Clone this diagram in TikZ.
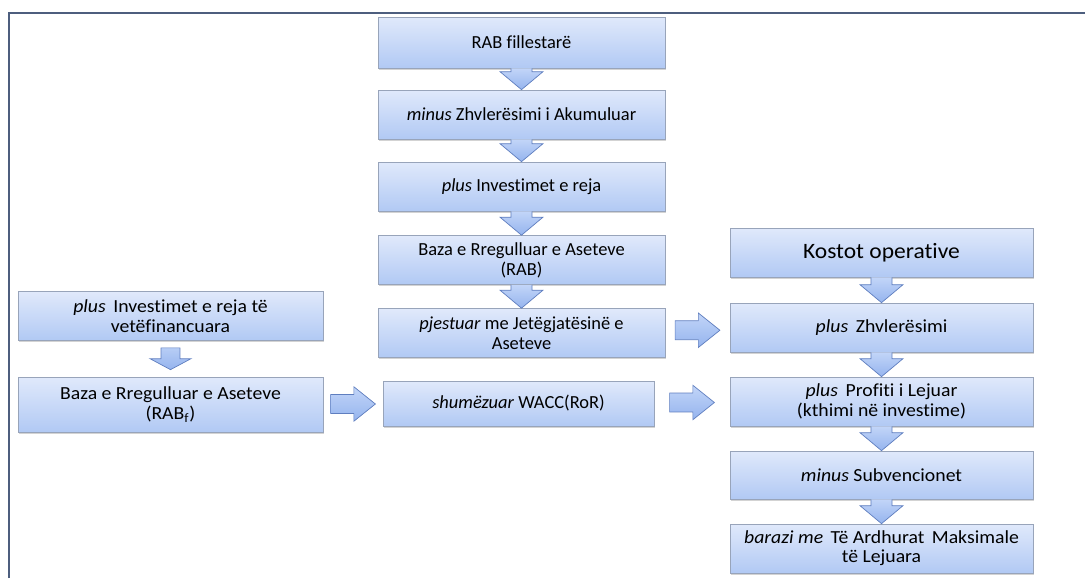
\documentclass[tikz,border=0pt]{standalone}
\usepackage{fontspec}
\setmainfont[Ligatures=NoCommon]{Carlito}
\newfontfamily\widefont[FakeStretch=1.07, Ligatures=NoCommon]{Carlito}
\usetikzlibrary{calc,shadows}

\definecolor{boxtop}{HTML}{E0E9FB}
\definecolor{boxbot}{HTML}{B1C9F4}
\definecolor{boxline}{HTML}{98A4BA}
\definecolor{arrowtop}{HTML}{C2D5F8}
\definecolor{arrowbot}{HTML}{95B4EE}
\definecolor{arrowline}{HTML}{5F7EBF}
\definecolor{frameline}{HTML}{4D5E7E}

\begin{document}
\begin{tikzpicture}[x=0.02cm, y=-0.02cm, text centered]
    \tikzset{%
      stage/.style={draw=boxline, top color=boxtop, bottom color=boxbot, align=center,
        drop shadow={shadow xshift=0.6pt, shadow yshift=-1pt, opacity=0.35},
        minimum height=0.98cm, inner sep=1pt, font=\fontsize{10.5}{11.5}\selectfont},
      midstage/.style={stage, minimum width=5.74cm},
      sidestage/.style={stage, minimum width=6.06cm, font=\fontsize{10.5}{11}\widefont},
      blockarrow/.style={draw=arrowline, top color=arrowtop, bottom color=arrowbot, line join=miter},
      blockdown/.style={blockarrow, to path={let \p1=(\tikztostart), \p2=(\tikztotarget) in
        (\x1-6pt,\y1) -- (\x1-6pt,\y2+10.2pt) -- (\x1-12.2pt,\y2+10.2pt) -- (\x1,\y2)
        -- (\x1+12.2pt,\y2+10.2pt) -- (\x1+6pt,\y2+10.2pt) -- (\x1+6pt,\y1)}},
      floatdown/.style={blockarrow, to path={let \p1=($(\tikztostart)!0.5!(\tikztotarget)$) in
        (\x1-5.4pt,\y1+6.2pt) -- (\x1-5.4pt,\y1) -- (\x1-11.6pt,\y1) -- (\x1,\y1-6.2pt)
        -- (\x1+11.6pt,\y1) -- (\x1+5.4pt,\y1) -- (\x1+5.4pt,\y1+6.2pt) -- cycle}},
      blockright/.style={blockarrow, to path={let \p1=($(\tikztostart)!0.5!(\tikztotarget)$) in
        (\x1-12.75pt,\y1+5.4pt) -- (\x1+0.5pt,\y1+5.4pt) -- (\x1+0.5pt,\y1+9.8pt) -- (\x1+12.75pt,\y1)
        -- (\x1+0.5pt,\y1-9.8pt) -- (\x1+0.5pt,\y1-5.4pt) -- (\x1-12.75pt,\y1-5.4pt) -- cycle}}
      }
    \useasboundingbox (0,0) rectangle (1085,578);
    \draw [frameline, line width=1.1pt] (9,578) -- (9,13) -- (1085,13);

    % middle column
    \node [midstage, minimum height=1.02cm] (RABstart) at (521.5,42.5) {RAB fillestarë};
    \node [midstage] (Depacc) at (521.5,114.5) {\textit{minus} Zhvlerësimi i Akumuluar};
    \node [midstage] (Invnew) at (521.5,186.5) {\textit{plus} Investimet e reja};
    \node [midstage] (RAB) at (521.5,260) {Baza e Rregulluar e Aseteve\\(RAB)};
    \node [midstage] (Life) at (521.5,333) {\textit{pjestuar} me Jetëgjatësinë e\\Aseteve};
    \node [midstage, minimum width=5.42cm, minimum height=0.9cm] (WACC) at (518.5,403.5) {\textit{shumëzuar} WACC(RoR)};

    \draw [blockdown] (RABstart.south) to (Depacc.north);
    \draw [blockdown] (Depacc.south) to (Invnew.north);
    \draw [blockdown] (Invnew.south) to (RAB.north);
    \draw [blockdown] (RAB.south) to (Life.north);

    % left column
    \node [sidestage, minimum width=6.1cm] (Invself) at (170.5,316) {\textit{plus}\, Investimet e reja të\\vetëfinancuara};
    \node [sidestage, minimum width=6.1cm, minimum height=1.1cm] (RABf) at (170.5,404.5) {Baza e Rregulluar e Aseteve\\(RAB\textsubscript{f})};
    \draw [floatdown] (Invself.south) to (RABf.north);
    \draw [blockright] (RABf.east) to (WACC.west);

    % right column
    \node [sidestage, font=\fontsize{12.5}{13}\widefont] (Opex) at (881.5,252.5) {Kostot operative};
    \node [sidestage] (Dep) at (881.5,327.5) {\textit{plus}\, Zhvlerësimi};
    \node [sidestage] (Profit) at (881.5,401.5) {\textit{plus}\, Profiti i Lejuar\\(kthimi në investime)};
    \node [sidestage, minimum height=0.96cm] (Subv) at (881.5,475) {\textit{minus} Subvencionet};
    \node [sidestage] (Rev) at (881.5,548.5) {\textit{barazi me}\, Të Ardhurat\, Maksimale\\të Lejuara};

    \draw [blockdown] (Opex.south) to (Dep.north);
    \draw [blockdown] (Dep.south) to (Profit.north);
    \draw [blockdown] (Profit.south) to (Subv.north);
    \draw [blockdown] (Subv.south) to (Rev.north);

    \draw [blockright] (Life.east) to (Dep.west);
    \draw [blockright] (WACC.east) to (Profit.west);

  \end{tikzpicture}
\end{document}
